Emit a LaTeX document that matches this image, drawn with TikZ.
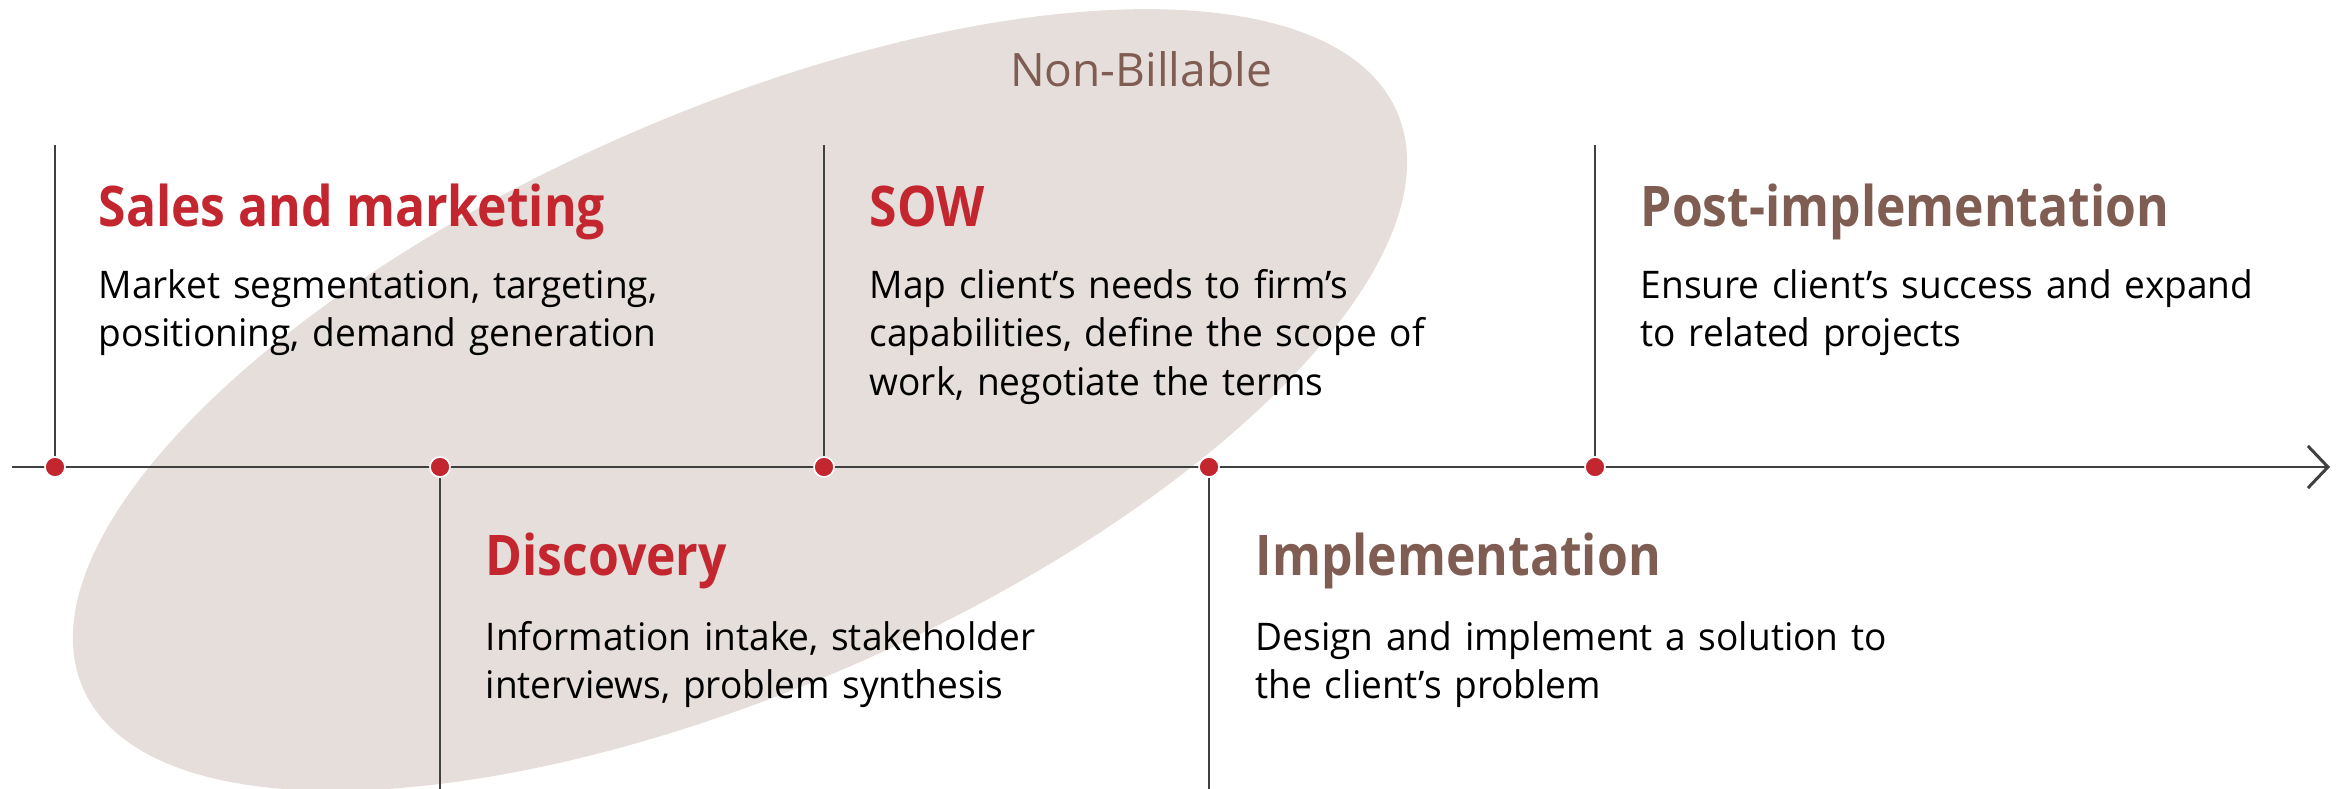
\documentclass[tikz,border=0pt]{standalone}
\usepackage{fontspec}
\setmainfont{Open Sans}
\newfontfamily\bodyfont{Open Sans}[FakeStretch=0.975]
\newfontfamily\titlefont{Open Sans}[FakeStretch=0.89]
\usetikzlibrary{arrows.meta}
\definecolor{ellfill}{HTML}{E6DEDA}
\definecolor{dotred}{HTML}{C3262F}
\definecolor{ttlred}{HTML}{C3262F}
\definecolor{ttlbrown}{HTML}{7F5D52}
\definecolor{linegray}{HTML}{404040}
\begin{document}
\begin{tikzpicture}[x=0.01cm,y=-0.01cm,
  body/.style={anchor=base west, inner sep=0pt, text width=8cm, align=left,
    font=\bodyfont\fontsize{10.81pt}{13.8pt}\selectfont, text=black},
  ttl/.style={anchor=base west, inner sep=0pt,
    font=\titlefont\fontsize{15.93pt}{19pt}\selectfont\bfseries},
  dot/.style={circle, fill=dotred, draw=white, line width=0.45pt,
    minimum size=0.2cm, inner sep=0pt},
  vline/.style={draw=linegray, line width=0.6pt},
  axis/.style={draw=linegray, line width=0.85pt,
    -{Straight Barb[length=0.2cm,width=0.42cm]}}]
\useasboundingbox (0,0) rectangle (2346,788);
\clip (0,0) rectangle (2346,788);
% non-billable ellipse
\coordinate (ec) at (740,400);
\fill[ellfill, rotate around={23.7:(ec)}] (ec) ellipse [x radius=7.17cm, y radius=2.88cm];
\node[anchor=base, inner sep=0pt, text=ttlbrown,
  font=\fontsize{13.1pt}{16pt}\selectfont] (nb) at (1141,87) {Non-Billable};
% timeline
\coordinate (L) at (12,467);
\coordinate (R) at (2330,467);
\draw[axis] (L) -- (R);
\node[dot] (d1) at (55,467) {};
\node[dot] (d2) at (440,467) {};
\node[dot] (d3) at (824,467) {};
\node[dot] (d4) at (1209,467) {};
\node[dot] (d5) at (1595,467) {};
\coordinate (u1) at (55,145);
\coordinate (u3) at (824,145);
\coordinate (u5) at (1595,145);
\coordinate (w2) at (440,790);
\coordinate (w4) at (1209,790);
\draw[vline] (u1) -- (d1);
\draw[vline] (u3) -- (d3);
\draw[vline] (u5) -- (d5);
\draw[vline] (d2) -- (w2);
\draw[vline] (d4) -- (w4);
% titles
\node[ttl, text=ttlred] (tsales) at (98,226) {Sales and marketing};
\node[ttl, text=ttlred] (tsow) at (869,226) {SOW};
\node[ttl, text=ttlbrown] (tpost) at (1640,226) {Post-implementation};
\node[ttl, text=ttlred] (tdisc) at (485,575) {Discovery};
\node[ttl, text=ttlbrown] (timpl) at (1255,575) {Implementation};
% bodies
\node[body] (bsales) at (98,298) {Market segmentation, targeting,\\ positioning, demand generation};
\node[body] (bsow) at (869,298) {Map client’s needs to firm’s\\ capabilities, define the scope of\\ work, negotiate the terms};
\node[body] (bpost) at (1640,298) {Ensure client’s success and expand\\ to related projects};
\node[body] (bdisc) at (485,650) {Information intake, stakeholder\\ interviews, problem synthesis};
\node[body] (bimpl) at (1255,650) {Design and implement a solution to\\ the client’s problem};
\end{tikzpicture}
\end{document}
